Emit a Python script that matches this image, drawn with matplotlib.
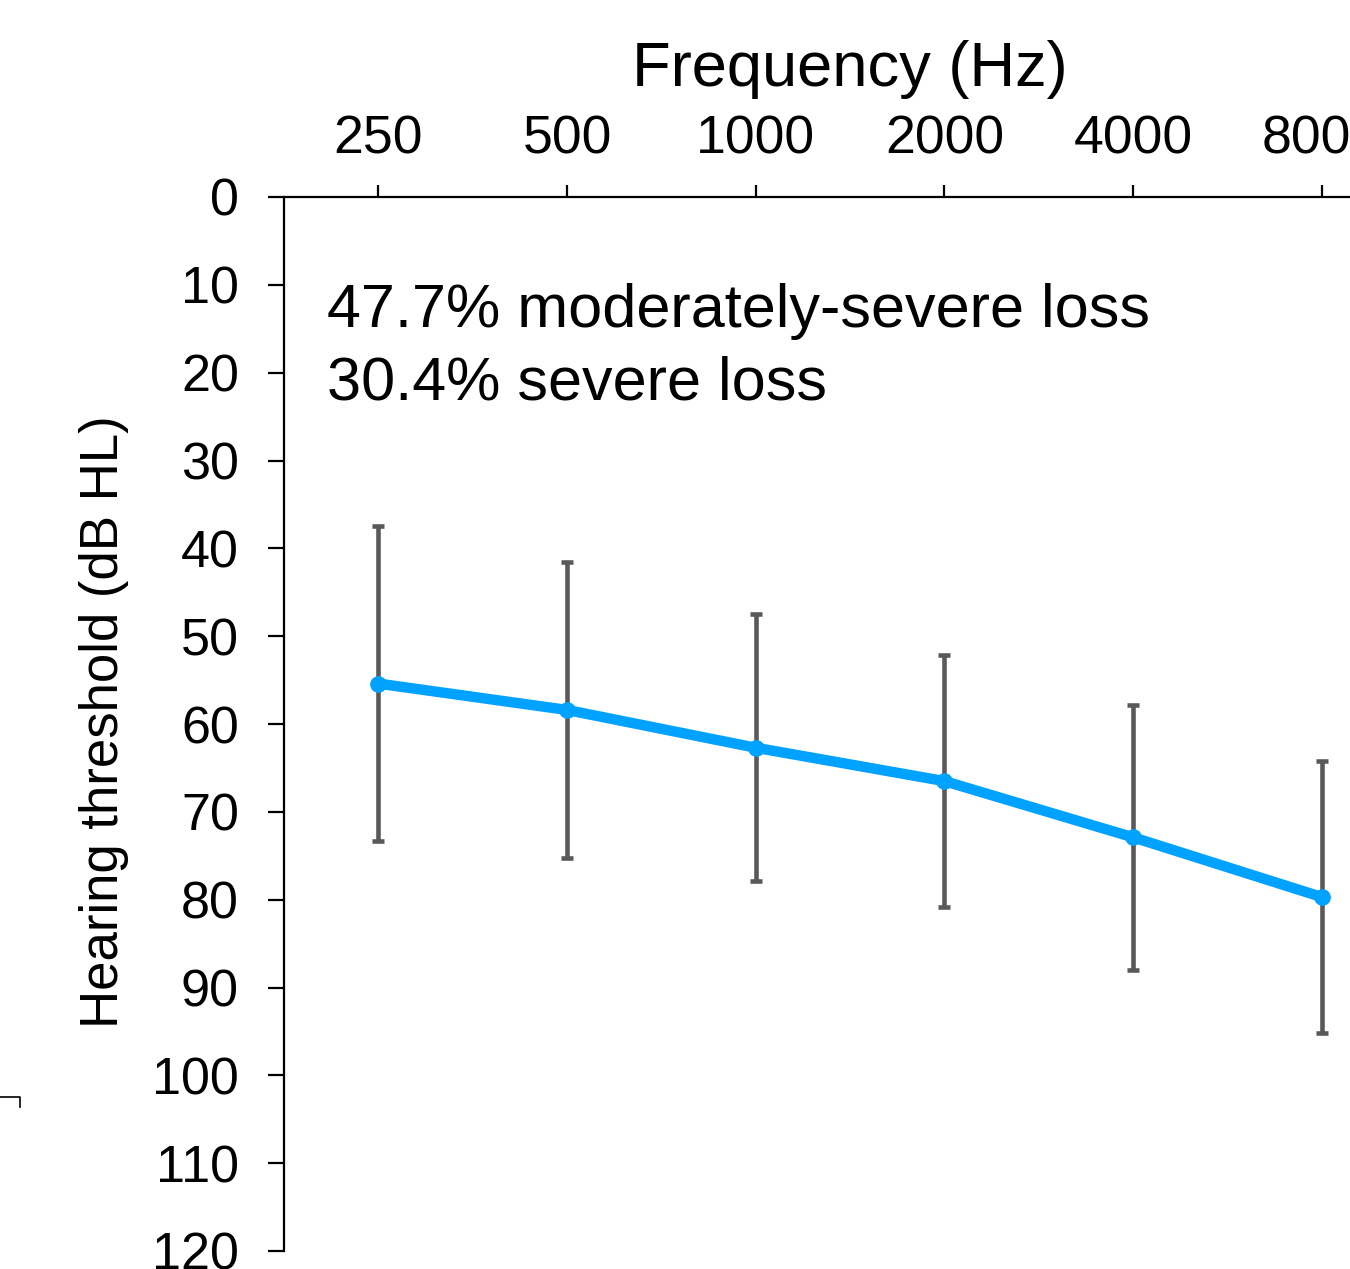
import matplotlib
matplotlib.use("Agg")
import matplotlib.pyplot as plt
from matplotlib.lines import Line2D

plt.rcParams['font.family'] = ['Liberation Sans', 'DejaVu Sans']

# Data
frequencies = ["250", "500", "1000", "2000", "4000", "8000"]
mean_threshold = [55.4, 58.4, 62.7, 66.5, 72.9, 79.7]
sd_threshold = [17.9, 16.8, 15.2, 14.3, 15.1, 15.5]
y_ticks = [0, 10, 20, 30, 40, 50, 60, 70, 80, 90, 100, 110, 120]
annotations = ["47.7% moderately-severe loss", "30.4% severe loss"]

W, H = 1350, 1269
fig = plt.figure(figsize=(W / 100, H / 100), dpi=100)
ax = fig.add_axes([284 / W, 1 - 1251 / H, 1132 / W, 1054 / H])

x = list(range(len(frequencies)))
ax.errorbar(x, mean_threshold, yerr=sd_threshold, fmt='none', ecolor='#595959',
            elinewidth=3.3, capsize=4.3, capthick=3.3, zorder=2)
ax.plot(x, mean_threshold, color='#00A2FF', lw=7.5, marker='o', ms=11,
        solid_capstyle='round', zorder=3)

ax.set_xlim(-0.5, len(frequencies) - 0.5)
ax.set_ylim(120, 0)
ax.set_yticks(y_ticks)
ax.set_xticks(x)
ax.set_xticklabels(frequencies)

ax.xaxis.tick_top()
for s in ['right', 'bottom']:
    ax.spines[s].set_visible(False)
for s in ['left', 'top']:
    ax.spines[s].set_linewidth(1.6)

ax.tick_params(axis='y', direction='out', length=11.5, width=1.6, labelsize=37.5, pad=21)
ax.tick_params(axis='x', direction='out', length=8.5, width=1.6, labelsize=38.5, pad=15,
               top=True, bottom=False, labeltop=True, labelbottom=False)

fig.text(850 / W, 1 - 86 / H, "Frequency (Hz)", fontsize=45.5, ha='center', va='baseline')
fig.text(104 / W, 1 - 722 / H, "Hearing threshold (dB HL)", fontsize=38,
         rotation=90, ha='center', va='center')

ax.text(-0.27, 14.8, annotations[0], fontsize=44, ha='left', va='baseline')
ax.text(-0.27, 23.1, annotations[1], fontsize=44, ha='left', va='baseline')

# stray corner mark at left edge
fig.add_artist(Line2D([0, 20 / W, 20 / W], [1 - 1097 / H, 1 - 1097 / H, 1 - 1107 / H],
                      transform=fig.transFigure, color='black', lw=1.2))

fig.savefig("out.png", dpi=100)
